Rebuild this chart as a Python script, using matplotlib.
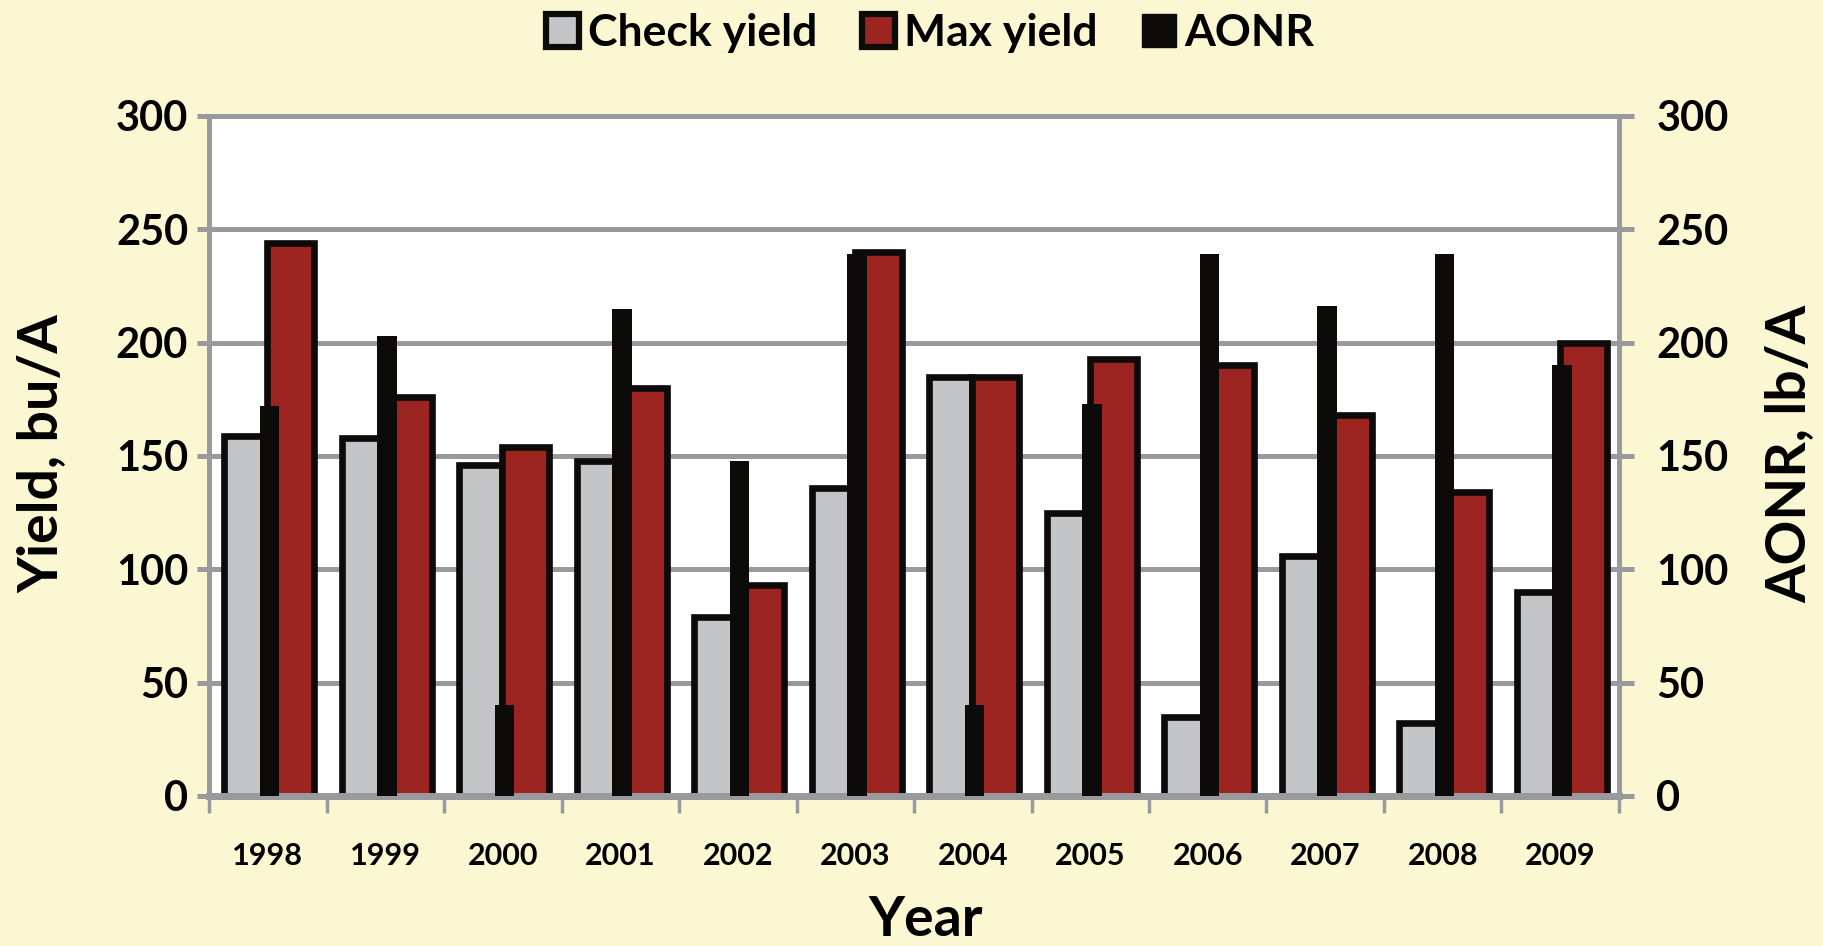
import numpy as np
import matplotlib
matplotlib.use("Agg")
import matplotlib.pyplot as plt
from matplotlib.patches import Patch

plt.rcParams['font.family'] = ['Lato', 'DejaVu Sans']

years = ['1998', '1999', '2000', '2001', '2002', '2003',
         '2004', '2005', '2006', '2007', '2008', '2009']
check_yield = [159, 158, 146, 148, 79, 136, 185, 125, 35, 106, 32, 90]
max_yield = [244, 176, 154, 180, 93, 240, 185, 193, 190, 168, 134, 200]
aonr = [172, 203, 40, 215, 148, 239, 40, 173, 239, 216, 239, 190]
y_ticks = [0, 50, 100, 150, 200, 250, 300]

bg = '#FAF7D2'
grey = '#C4C5C7'
red = '#9C2521'
black = '#0D0B09'
gridc = '#999A9E'

x = np.arange(len(years))

fig = plt.figure(figsize=(18.24, 9.46), dpi=100, facecolor=bg)
ax1 = fig.add_axes([0.1146, 0.1586, 0.773, 0.7188])
ax2 = ax1.twinx()

ax1.set_facecolor('white')
ax1.bar(x - 0.19, check_yield, 0.36, color=grey, edgecolor=black, linewidth=4.8, zorder=3)
ax1.bar(x + 0.195, max_yield, 0.40, color=red, edgecolor=black, linewidth=4.8, zorder=3)
ax2.bar(x + 0.015, aonr, 0.165, color=black, edgecolor='none', zorder=3)

for ax in (ax1, ax2):
    ax.set_ylim(0, 300)
    ax.set_xlim(-0.5, len(years) - 0.5)
    ax.set_yticks(y_ticks)
    for s in ax.spines.values():
        s.set_color(gridc)
        s.set_linewidth(3.6)
    ax.spines['bottom'].set_linewidth(5)

ax1.yaxis.grid(True, color=gridc, linewidth=3.6, zorder=0)
ax1.set_axisbelow(True)
ax2.patch.set_visible(False)

ax1.tick_params(axis='y', which='major', length=9, width=3.6, color=gridc,
                labelsize=30, pad=6)
ax2.tick_params(axis='y', which='major', length=11, width=3.6, color=gridc,
                labelsize=30, pad=16)
for lab in ax1.get_yticklabels() + ax2.get_yticklabels():
    lab.set_fontweight('bold')

ax1.set_xticks(x)
ax1.set_xticklabels(years, fontsize=22, fontweight='bold')
ax1.set_xticks(np.arange(len(years) + 1) - 0.5, minor=True)
ax1.tick_params(axis='x', which='major', length=0, pad=33)
ax1.tick_params(axis='x', which='minor', length=12, width=2.5, color=gridc)

fig.text(0.0225, 0.52, 'Yield, bu/A', rotation=90, ha='center', va='center',
         fontsize=40, fontweight='bold')
fig.text(0.981, 0.52, 'AONR, lb/A', rotation=90, ha='center', va='center',
         fontsize=40, fontweight='bold')
fig.text(0.5077, 0.028, 'Year', ha='center', va='center',
         fontsize=40, fontweight='bold')

handles = [Patch(facecolor=grey, edgecolor=black, linewidth=4.5, label='Check yield'),
           Patch(facecolor=red, edgecolor=black, linewidth=4.5, label='Max yield'),
           Patch(facecolor=black, edgecolor=black, linewidth=1, label='AONR')]
fig.legend(handles=handles, loc='center', bbox_to_anchor=(0.51, 0.965), ncol=3,
           frameon=False, handlelength=0.75, handleheight=0.75, handletextpad=0.2,
           columnspacing=1.0, prop={'size': 32, 'weight': 'bold'})

fig.savefig('out.png', dpi=100, facecolor=bg)
